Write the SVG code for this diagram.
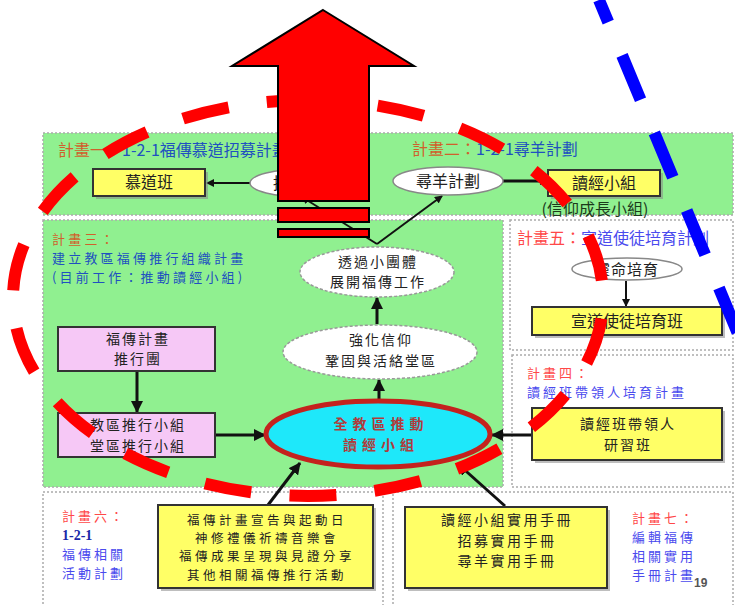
<svg xmlns="http://www.w3.org/2000/svg" width="735" height="605" viewBox="0 0 735 605">
<defs>
<style>
text{font-family:"Noto Sans CJK TC","Noto Sans CJK SC",sans-serif;font-size:16px;}
.c{text-anchor:middle;fill:#222;}
.m{font-size:14px;letter-spacing:2px;}
.s13{font-size:13px;letter-spacing:3px;}
.lbl1{fill:#d0602c;}
.blu1{fill:#2050c0;}
.lbl2{fill:#ff4848;}
.blu2{fill:#4a4aee;}
.band{fill:#90f090;stroke:#aaa;stroke-width:1.5;stroke-dasharray:2 2;}
.sec{fill:#fff;stroke:#aaa;stroke-width:1.5;stroke-dasharray:2 2;}
.yb{fill:#ffff66;stroke:#333;stroke-width:2;}
.sh{fill:#888;opacity:.55;}
.pb{fill:#f6c8f6;stroke:#333;stroke-width:2;}
.el{fill:#fff;stroke:#888;stroke-width:1.5;}
.eld{fill:#fff;stroke:#999;stroke-width:1.5;stroke-dasharray:3 2;}
.ln{stroke:#111;stroke-width:3;fill:none;}
.lt{stroke:#111;stroke-width:2;fill:none;}
</style>
<marker id="ah" markerUnits="userSpaceOnUse" markerWidth="12" markerHeight="12" refX="11" refY="6" orient="auto"><path d="M0,0 L12,6 L0,12 z" fill="#111"/></marker>
<marker id="as" markerUnits="userSpaceOnUse" markerWidth="8" markerHeight="8" refX="7" refY="4" orient="auto"><path d="M0,0 L8,4 L0,8 z" fill="#111"/></marker>
</defs>
<rect width="735" height="605" fill="#fff"/>

<!-- section backgrounds -->
<rect class="band" x="43" y="133" width="690" height="82"/>
<rect class="band" x="43" y="220" width="460" height="267"/>
<rect class="sec" x="510" y="220" width="223" height="130"/>
<rect class="sec" x="512" y="355" width="221" height="132"/>
<rect class="sec" x="43" y="492" width="340" height="120"/>
<rect class="sec" x="393" y="492" width="340" height="120"/>

<!-- section labels -->
<g id="plan1-label"><text x="58" y="156"><tspan class="lbl1">計畫一：</tspan><tspan class="blu1">1-2-1福傳慕道招募計畫</tspan></text></g>
<g id="plan2-label"><text x="412" y="155"><tspan class="lbl1">計畫二：</tspan><tspan class="blu1">1-2-1尋羊計劃</tspan></text></g>
<g id="plan3-label">
<text x="52" y="244" class="s13" style="letter-spacing:3.2px"><tspan class="lbl1">計畫三：</tspan><tspan class="blu1" x="52" dy="19">建立教區福傳推行組織計畫</tspan><tspan class="blu1" x="52" dy="19">(目前工作：推動讀經小組)</tspan></text>
</g>
<g id="plan5-label"><text x="517" y="244"><tspan class="lbl2">計畫五：</tspan><tspan class="blu2">宣道使徒培育計劃</tspan></text></g>
<g id="plan4-label">
<text x="527" y="378" class="s13"><tspan class="lbl2">計畫四：</tspan><tspan class="blu2" x="527" dy="19">讀經班帶領人培育計畫</tspan></text>
</g>
<g id="plan6-label">
<text x="62" y="521" class="s13"><tspan class="lbl2">計畫六：</tspan><tspan x="62" dy="19" style="fill:#1828a8;font-weight:bold;font-family:'Liberation Serif',serif;font-size:14px;letter-spacing:0">1-2-1</tspan><tspan class="blu2" x="62" dy="19">福傳相關</tspan><tspan class="blu2" x="62" dy="19">活動計劃</tspan></text>
</g>
<g id="plan7-label">
<text x="632" y="523" class="s13"><tspan class="lbl2">計畫七：</tspan><tspan class="blu2" x="632" dy="19">編輯福傳</tspan><tspan class="blu2" x="632" dy="19">相關實用</tspan><tspan class="blu2" x="632" dy="19">手冊計畫</tspan></text>
</g>
<text x="694" y="587" style="font-family:'Liberation Sans',sans-serif;font-size:12px;fill:#555;font-weight:bold">19</text>

<!-- connectors -->
<g id="connectors">
<line class="lt" x1="250" y1="183" x2="207" y2="183" marker-end="url(#as)"/>
<line class="ln" x1="503" y1="181" x2="547" y2="181" marker-end="url(#as)"/>
<line class="lt" x1="377" y1="244" x2="302" y2="197" marker-end="url(#as)"/>
<line class="lt" x1="377" y1="244" x2="442" y2="196" marker-end="url(#as)"/>
<line class="ln" x1="377" y1="324" x2="377" y2="298" marker-end="url(#ah)"/>
<line class="ln" x1="379" y1="400" x2="379" y2="380" marker-end="url(#ah)"/>
<line class="ln" x1="137" y1="371" x2="137" y2="412" marker-end="url(#ah)"/>
<line class="ln" x1="215" y1="435" x2="265" y2="435" marker-end="url(#ah)"/>
<line class="ln" x1="532" y1="435" x2="492" y2="435" marker-end="url(#ah)"/>
<line class="ln" x1="268" y1="505" x2="300" y2="463" marker-end="url(#ah)"/>
<line class="ln" x1="505" y1="506" x2="458" y2="464" marker-end="url(#ah)"/>
<line class="lt" x1="626" y1="281" x2="626" y2="306" marker-end="url(#as)"/>
</g>

<!-- nodes -->
<g id="n-mudao-ban"><rect class="sh" x="96" y="172" width="112" height="27"/><rect class="yb" x="93" y="169" width="112" height="27"/><text class="c" x="149" y="188">慕道班</text></g>
<g id="n-zhaomu"><ellipse class="el" cx="305" cy="183" rx="55" ry="14"/><text class="c" x="305" y="189">招募計劃</text></g>
<g id="n-xunyang"><ellipse class="el" cx="448" cy="181" rx="55" ry="14"/><text class="c" x="448" y="187">尋羊計劃</text></g>
<g id="n-dujing"><rect class="sh" x="551" y="173" width="112" height="26"/><rect class="yb" x="548" y="170" width="112" height="26"/><text class="c" x="604" y="189">讀經小組</text><text class="c" x="595" y="215" style="fill:#1c3a1c">(信仰成長小組)</text></g>
<g id="n-touguo"><ellipse class="eld" cx="377" cy="272" rx="77" ry="25"/><text class="c m" x="378" y="266.5">透過小團體<tspan x="378" dy="20.5">展開福傳工作</tspan></text></g>
<g id="n-qianghua"><ellipse class="eld" cx="380" cy="352" rx="97" ry="27"/><text class="c m" x="381" y="345">強化信仰<tspan x="381" dy="20.5">鞏固與活絡堂區</tspan></text></g>
<g id="n-main"><ellipse cx="378" cy="434" rx="112" ry="33" fill="#1ee8fa" stroke="#c4221e" stroke-width="5"/><text class="c" x="381" y="429" style="fill:#b03c3c;letter-spacing:5px;font-size:14px;font-weight:bold">全教區推動<tspan x="381" dy="21">讀經小組</tspan></text></g>
<g id="n-tuixingtuan"><rect class="pb" x="58" y="327" width="157" height="44"/><text class="c m" x="138" y="343.5">福傳計畫<tspan x="138" dy="20.5">推行團</tspan></text></g>
<g id="n-tuixingxiaozu"><rect class="pb" x="58" y="413" width="157" height="44"/><text class="c m" x="138" y="430">教區推行小組<tspan x="138" dy="20.5">堂區推行小組</tspan></text></g>
<g id="n-lingming"><ellipse class="el" cx="627" cy="269" rx="55" ry="11"/><text class="c" x="627" y="275" style="font-size:15px;letter-spacing:1px">靈命培育</text></g>
<g id="n-xuandao"><rect class="sh" x="535" y="310" width="190" height="28"/><rect class="yb" x="532" y="307" width="190" height="28"/><text class="c" x="627" y="327">宣道使徒培育班</text></g>
<g id="n-dailingren"><rect class="sh" x="535" y="411" width="190" height="52"/><rect class="yb" x="532" y="408" width="190" height="52"/><text class="c m" x="628" y="429">讀經班帶領人<tspan x="628" dy="20.5">研習班</tspan></text></g>
<g id="n-huodong"><rect class="sh" x="161" y="508" width="215" height="83"/><rect class="yb" x="158" y="505" width="215" height="83"/>
<text class="c" x="267" y="525" style="font-size:12.5px;letter-spacing:3.5px">福傳計畫宣告與起動日<tspan x="267" dy="18.2">神修禮儀祈禱音樂會</tspan><tspan x="267" dy="18.2">福傳成果呈現與見證分享</tspan><tspan x="267" dy="18.2">其他相關福傳推行活動</tspan></text></g>
<g id="n-shouce"><rect class="sh" x="408" y="510" width="202" height="81"/><rect class="yb" x="405" y="507" width="202" height="81"/>
<text class="c" x="507" y="525" style="font-size:14px;letter-spacing:2.5px">讀經小組實用手冊<tspan x="507" dy="20.5">招募實用手冊</tspan><tspan x="507" dy="20.5">尋羊實用手冊</tspan></text></g>

<!-- overlays -->
<path id="red-dashed-ring" d="M308,100 A295,198 0 1 1 308,496 A295,198 0 1 1 308,100" fill="none" stroke="#ff0000" stroke-width="12" stroke-dasharray="47 38.4" stroke-dashoffset="15.4"/>
<g id="big-red-arrow">
<polygon points="323,10 414,66 369,66 369,201 278,201 278,66 232,66" fill="#ff0000" stroke="#000" stroke-width="2"/>
<rect x="278" y="208" width="91" height="14" fill="#ff0000" stroke="#000" stroke-width="2"/>
<rect x="278" y="229" width="91" height="8" fill="#ff0000" stroke="#000" stroke-width="2"/>
</g>
<line id="blue-dashed-line" x1="599" y1="0" x2="851" y2="605" stroke="#0000ff" stroke-width="12" stroke-dasharray="48 36" stroke-dashoffset="24"/>
</svg>
